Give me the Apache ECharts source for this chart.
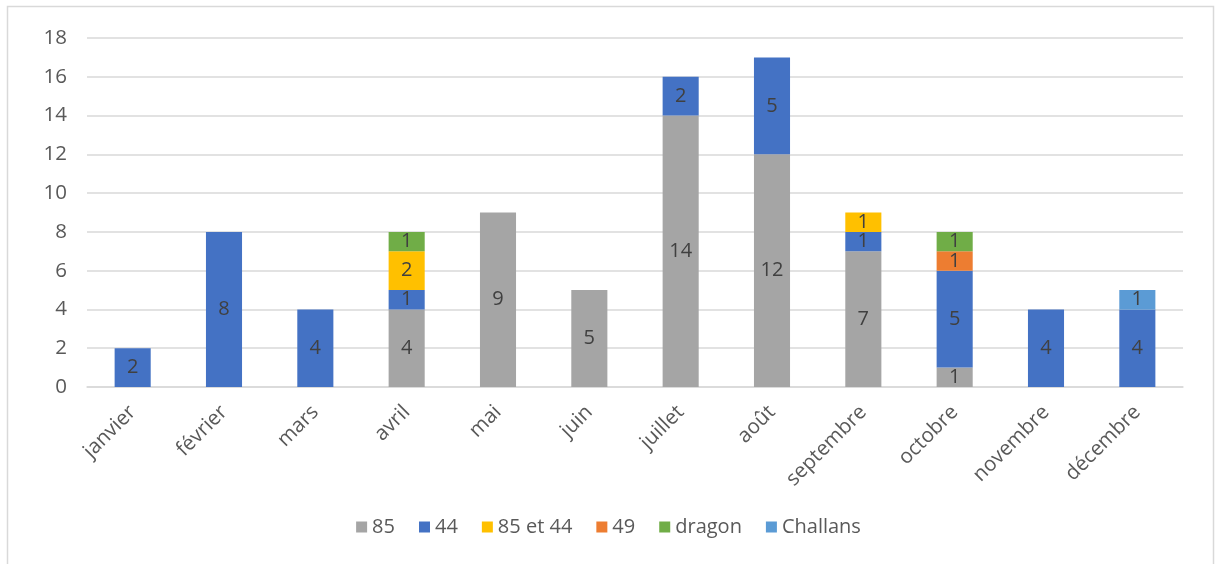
<!DOCTYPE html>
<html><head><meta charset="utf-8">
<script src="https://cdn.jsdelivr.net/npm/echarts@6/dist/echarts.min.js"></script>
<style>html,body{margin:0;padding:0;background:#fff}#c{width:1217px;height:564px}</style>
</head><body><div id="c"></div>
<script>
const categories = ['janvier','février','mars','avril','mai','juin','juillet','août','septembre','octobre','novembre','décembre'];
const s85 =       [null,null,null,4,9,5,14,12,7,1,null,null];
const s44 =       [2,8,4,1,null,null,2,5,1,5,4,4];
const s85et44 =   [null,null,null,2,null,null,null,null,1,null,null,null];
const s49 =       [null,null,null,null,null,null,null,null,null,1,null,null];
const sDragon =   [null,null,null,1,null,null,null,null,null,1,null,null];
const sChallans = [null,null,null,null,null,null,null,null,null,null,null,1];
const yTicks = [0,2,4,6,8,10,12,14,16,18];

const font = '"Open Sans", "Liberation Sans", sans-serif';
function mk(name, data, color) {
  return {
    name, type: 'bar', stack: 'a', data, barWidth: '39.5%',
    itemStyle: { color },
    label: { show: true, position: 'inside', color: '#404040', fontSize: 20, fontFamily: font,
      formatter: p => (p.value == null ? '' : p.value) }
  };
}
const chart = echarts.init(document.getElementById('c'), null, { renderer: 'canvas' });
chart.setOption({
  animation: false,
  backgroundColor: '#fff',
  graphic: [{ type: 'rect', shape: { x: 7.5, y: 6.5, width: 1206, height: 560 }, style: { fill: 'none', stroke: '#d9d9d9', lineWidth: 1.5 }, silent: true }],
  grid: { left: 87, right: 34, top: 38, bottom: 177, containLabel: false },
  legend: {
    bottom: 22, left: 'center', itemWidth: 11, itemHeight: 11, itemGap: 24, icon: 'rect',
    textStyle: { color: '#595959', fontSize: 20, fontFamily: font },
    data: ['85','44','85 et 44','49','dragon','Challans']
  },
  xAxis: {
    type: 'category', data: categories,
    axisLine: { show: true, lineStyle: { color: '#d9d9d9', width: 1.5 } },
    axisTick: { show: false },
    axisLabel: { rotate: 45, color: '#595959', fontSize: 20.5, fontFamily: font, margin: 22, interval: 0 }
  },
  yAxis: {
    type: 'value', min: yTicks[0], max: yTicks[yTicks.length-1], interval: 2,
    axisLine: { show: false }, axisTick: { show: false },
    axisLabel: { color: '#595959', fontSize: 20.5, fontFamily: font, margin: 20 },
    splitLine: { lineStyle: { color: '#d9d9d9', width: 1.5 } }
  },
  series: [
    mk('85', s85, '#A5A5A5'),
    mk('44', s44, '#4472C4'),
    mk('85 et 44', s85et44, '#FFC000'),
    mk('49', s49, '#ED7D31'),
    mk('dragon', sDragon, '#70AD47'),
    mk('Challans', sChallans, '#5B9BD5')
  ]
});
</script></body></html>
